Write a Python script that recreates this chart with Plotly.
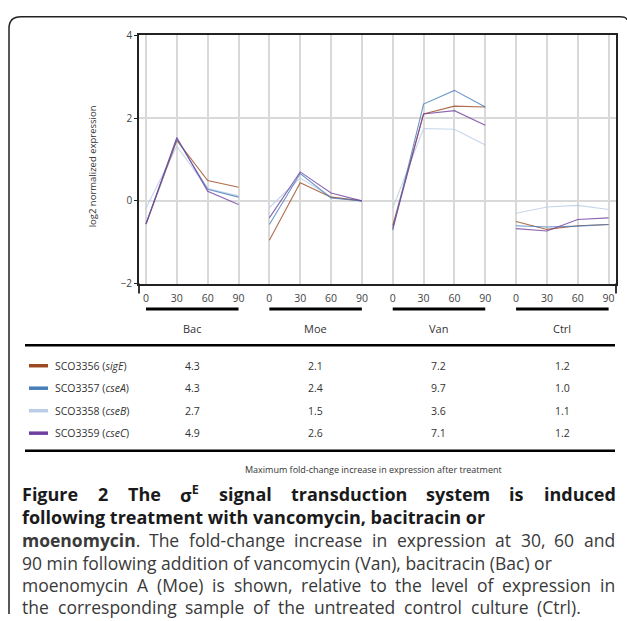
import plotly.graph_objects as go

W, H = 627, 621
def px(x): return x / W
def py(y): return 1 - y / H

# ---------------- data ----------------
times = [0, 30, 60, 90]
treatments = ["Bac", "Moe", "Van", "Ctrl"]
genes = ["SCO3356", "SCO3357", "SCO3358", "SCO3359"]
gene_names = ["sigE", "cseA", "cseB", "cseC"]
colors = ["#9c4a22", "#4a7ebb", "#b9cde5", "#7040a0"]

# log2 normalized expression, per treatment (Bac, Moe, Van, Ctrl) at 0/30/60/90 min
sigE_expr = [[-0.56, 1.46, 0.49, 0.33], [-0.95, 0.44, 0.09, 0.00],
             [-0.60, 2.10, 2.29, 2.27], [-0.50, -0.69, -0.60, -0.57]]
cseA_expr = [[-0.56, 1.50, 0.28, 0.09], [-0.57, 0.66, 0.07, 0.00],
             [-0.71, 2.34, 2.67, 2.27], [-0.60, -0.63, -0.61, -0.57]]
cseB_expr = [[-0.18, 1.32, 0.30, 0.12], [-0.16, 0.55, 0.10, 0.00],
             [-0.18, 1.75, 1.73, 1.35], [-0.30, -0.15, -0.11, -0.21]]
cseC_expr = [[-0.56, 1.53, 0.23, -0.09], [-0.41, 0.70, 0.19, 0.00],
             [-0.67, 2.10, 2.18, 1.83], [-0.67, -0.73, -0.45, -0.41]]

# maximum fold-change increase after treatment
fold_sigE = [4.3, 2.1, 7.2, 1.2]
fold_cseA = [4.3, 2.4, 9.7, 1.0]
fold_cseB = [2.7, 1.5, 3.6, 1.1]
fold_cseC = [4.9, 2.6, 7.1, 1.2]

expr = [sigE_expr, cseA_expr, cseB_expr, cseC_expr]
folds = [fold_sigE, fold_cseA, fold_cseB, fold_cseC]

tick_labels = [str(t) for t in times] * len(treatments)

# ---------------- figure ----------------
fig = go.Figure()
n = len(times)
for gi in [2, 0, 1, 3]:
    xs, ys = [], []
    for ti in range(len(treatments)):
        for k in range(n):
            xs.append(ti * n + k)
            ys.append(expr[gi][ti][k])
        xs.append(None)
        ys.append(None)
    fig.add_trace(go.Scatter(x=xs, y=ys, mode="lines", connectgaps=False,
                             line=dict(color=colors[gi], width=1.1),
                             opacity=0.8, showlegend=False, hoverinfo="skip"))

FONT = "Open Sans"
fig.update_layout(
    width=W, height=H, autosize=False,
    margin=dict(l=0, r=0, t=0, b=0),
    paper_bgcolor="white", plot_bgcolor="white",
    font=dict(family=FONT, color="#333333"),
    showlegend=False,
)
fig.update_xaxes(
    domain=[px(139), px(616)], range=[-0.227, 15.24],
    tickmode="array", tickvals=list(range(len(tick_labels))), ticktext=tick_labels,
    showgrid=True, gridcolor="#d9d9d9", gridwidth=1.5,
    showline=True, linecolor="#222222", linewidth=2, mirror=True,
    ticks="", tickfont=dict(size=10.5, color="#444444"), ticklabelstandoff=4,
    zeroline=False, fixedrange=True,
)
fig.update_yaxes(
    domain=[py(283), py(29)], range=[-2, 4],
    tickmode="array", tickvals=[-2, 0, 2, 4],
    showgrid=True, gridcolor="#d9d9d9", gridwidth=1.5,
    showline=True, linecolor="#222222", linewidth=1.8, mirror=True,
    ticks="outside", ticklen=3, tickcolor="#222222",
    tickfont=dict(size=10, color="#444444"),
    zeroline=False, fixedrange=True,
)

shapes = []
annotations = []

def note(x, y, text, size, color="#333333", xanchor="center", yanchor="middle",
         xref="paper", **kw):
    annotations.append(dict(xref=xref, yref="paper", x=x, y=y, text=text, showarrow=False,
                            xanchor=xanchor, yanchor=yanchor,
                            font=dict(size=size, color=color), **kw))

# frame
frame = (f"M {px(9)},{py(621)} L {px(9)},{py(22)} Q {px(9)},{py(10)} {px(21)},{py(10)} "
         f"L {px(620)},{py(10)} Q {px(626)},{py(10)} {px(627)},{py(13)}")
shapes.append(dict(type="path", xref="paper", yref="paper", path=frame,
                   line=dict(color="#222222", width=1.5)))

# axis extensions below the plot
for xx in (139, 616):
    shapes.append(dict(type="line", xref="paper", yref="paper",
                       x0=px(xx), x1=px(xx), y0=py(283), y1=py(293),
                       line=dict(color="#222222", width=1.8)))

# y-axis title
note(px(92), py(163), "log2 normalized expression", 9.5, textangle=-90)

# group bars and labels
for ti, t in enumerate(treatments):
    shapes.append(dict(type="line", xref="x", yref="paper",
                       x0=ti * n, x1=ti * n + n - 1, y0=py(309), y1=py(309),
                       line=dict(color="black", width=3)))
    note(ti * n + (n - 1) / 2, py(329), t, 11, xref="x")

# table rules
for yy in (346, 454):
    shapes.append(dict(type="line", xref="paper", yref="paper",
                       x0=px(25), x1=px(615), y0=py(yy), y1=py(yy),
                       line=dict(color="black", width=2.5)))

row_y = [367, 390, 413, 436]
for gi, g in enumerate(genes):
    yy = py(row_y[gi])
    shapes.append(dict(type="line", xref="paper", yref="paper",
                       x0=px(29), x1=px(48), y0=yy, y1=yy,
                       line=dict(color=colors[gi], width=3.5)))
    note(px(53), yy, f"{g} (<i>{gene_names[gi]}</i>)", 10.5, xanchor="left")
    for ti in range(len(treatments)):
        note(ti * n + (n - 1) / 2, yy, f"{folds[gi][ti]:.1f}", 10.5, xref="x")

note(px(373), py(473), "Maximum fold-change increase in expression after treatment", 9)

# ---------------- caption (justified word placement) ----------------
REG = dict(zip("abcdefghijklmnopqrstuvwxyz",
               [.556, .613, .476, .613, .561, .339, .548, .614, .253, .253, .525, .253, .930,
                .614, .604, .613, .613, .408, .477, .353, .614, .501, .778, .524, .502, .477]))
REG.update({" ": .26, "(": .282, ")": .282, ",": .245, ".": .266, "-": .322,
            "A": .633, "M": .903, "V": .600, "B": .640, "C": .631, "D": .720, "T": .547,
            "σ": .62})
REG.update({d: .572 for d in "0123456789"})
BLD = dict(zip("abcdefghijklmnopqrstuvwxyz",
               [.595, .635, .511, .635, .595, .389, .562, .648, .298, .298, .600, .298, .975,
                .648, .621, .635, .635, .451, .503, .426, .648, .554, .832, .560, .554, .503]))
BLD.update({" ": .26, ",": .28, ".": .28, "F": .575, "T": .569, "σ": .65, "E": .55})
BLD.update({d: .572 for d in "0123456789"})

def wid(s, bold, size):
    tab = BLD if bold else REG
    return sum(tab.get(c, .56) for c in s) * size

BOLD = "#1a1a1a"
BODY = "#3a3a3a"
BS = 18
CS = 17.5
cy = [498, 521.5, 545, 568.5, 591.5, 614]

def justify(tokens, x0, x1, y, size):
    """tokens: list of (html, width_px, color)."""
    total = sum(t[1] for t in tokens)
    gap = (x1 - x0 - total) / (len(tokens) - 1)
    x = x0
    for html, w, col in tokens:
        note(px(x), py(y), html, size, col, xanchor="left")
        x += w + gap

# line 1 (bold, justified)
words1 = ["Figure", "2", "The", "σE", "signal", "transduction", "system", "is", "induced"]
tok1 = []
for w in words1:
    if w == "σE":
        tok1.append(("<b>σ<sup>E</sup></b>", (BLD["σ"] + 0.7 * BLD["E"]) * BS, BOLD))
    else:
        tok1.append((f"<b>{w}</b>", wid(w, True, BS), BOLD))
justify(tok1, 20, 613, cy[0], BS)

# line 2 (bold, natural)
note(px(20), py(cy[1]), "<b>following treatment with vancomycin, bacitracin or</b>", BS, BOLD,
     xanchor="left")

# line 3 (justified)
words3 = "The fold-change increase in expression at 30, 60 and".split()
tok3 = [("<b>moenomycin</b>.", wid("moenomycin", True, CS) + wid(".", False, CS), BODY)]
tok3 += [(w, wid(w, False, CS), BODY) for w in words3]
justify(tok3, 20, 613, cy[2], CS)

# line 4 (natural)
note(px(20), py(cy[3]), "90 min following addition of vancomycin (Van), bacitracin (Bac) or",
     CS, BODY, xanchor="left")

# line 5 (justified)
words5 = "moenomycin A (Moe) is shown, relative to the level of expression in".split()
justify([(w, wid(w, False, CS), BODY) for w in words5], 20, 613, cy[4], CS)

# line 6 (slightly spread, as in the reference)
words6 = "the corresponding sample of the untreated control culture (Ctrl).".split()
justify([(w, wid(w, False, CS), BODY) for w in words6], 20, 578, cy[5], CS)

fig.update_layout(shapes=shapes, annotations=annotations)
fig.write_html("out.html", config={"displayModeBar": False},
               post_script="document.body.style.margin='0';document.body.style.overflow='hidden';")
